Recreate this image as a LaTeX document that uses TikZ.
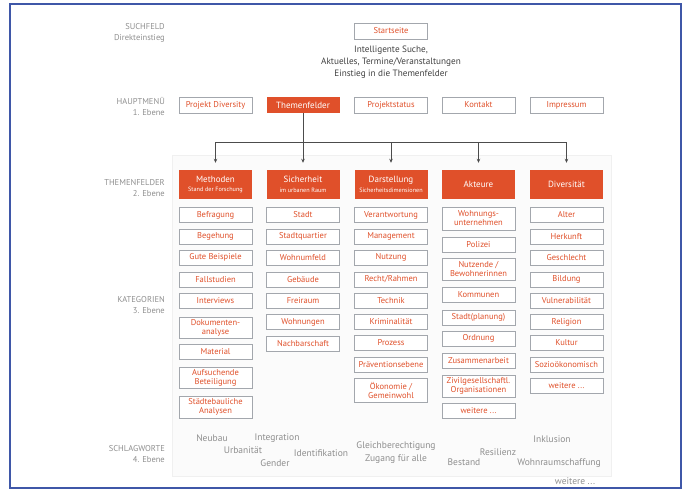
\documentclass[tikz,border=0pt]{standalone}
\usepackage{fontspec}
\setmainfont{PT Sans}
\usetikzlibrary{arrows.meta}

\definecolor{rot}{HTML}{E0502A}
\definecolor{rahmen}{HTML}{A3A7AD}
\definecolor{grau}{HTML}{8E8E8E}
\definecolor{blau}{HTML}{3F57A8}

\tikzset{
  kat/.style={draw=rahmen, line width=0.8pt, fill=white, text=rot,
    minimum width=73pt, minimum height=15pt, inner sep=1pt, align=center,
    font=\fontsize{8.5}{9}\selectfont},
  kopf/.style={fill=rot, text=white, minimum width=73pt, minimum height=29pt,
    inner sep=1pt, align=center, font=\fontsize{9}{9.5}\selectfont},
  ebene/.style={anchor=east, text=grau, align=right, inner sep=0pt,
    font=\fontsize{8.5}{11}\selectfont},
  wort/.style={text=grau, inner sep=0pt, font=\fontsize{9.5}{10}\selectfont},
  pfeil/.style={-{Stealth[length=4pt,width=3.5pt]}, draw=black!70,
    line width=0.8pt, shorten >=7pt}
}
\newcommand{\unter}[1]{{\fontsize{6.2}{7}\selectfont #1}}

\begin{document}
\begin{tikzpicture}[x=1pt,y=-1pt]
        \useasboundingbox (0,0) rectangle (689,491);

        % Frame and panel
        \draw[blau, line width=2.5pt] (10,4) rectangle (681,488);
        \draw[black!6, fill=black!1.5, line width=0.4pt] (172,155) rectangle (611,476);

        % Levels
        \node[ebene] (lSuch) at (165,33) {SUCHFELD\\Direkteinstieg};
        \node[ebene] (lHaupt) at (165,106) {HAUPTMENÜ\\1. Ebene};
        \node[ebene] (lThemen) at (165,188) {THEMENFELDER\\2. Ebene};
        \node[ebene] (lKat) at (165,305) {KATEGORIEN\\3. Ebene};
        \node[ebene] (lSchlag) at (165,454) {SCHLAGWORTE\\4. Ebene};

        % Search field
        \node[kat, minimum height=16pt] (start) at (391,31) {Startseite};
        \node[text=black!75, align=center, inner sep=0pt,
          font=\fontsize{9.2}{12}\selectfont] (intro) at (391,62)
          {Intelligente Suche,\\Aktuelles, Termine/Veranstaltungen\\Einstieg in die Themenfelder};

        % Main menu
        \node[kat, minimum height=16pt] (projekt) at (215.5,105) {Projekt Diversity};
        \node[kopf, minimum height=16pt] (themen) at (303,105) {Themenfelder};
        \node[kat, minimum height=16pt] (status) at (391,105) {Projektstatus};
        \node[kat, minimum height=16pt] (kontakt) at (478.5,105) {Kontakt};
        \node[kat, minimum height=16pt] (impressum) at (566.5,105) {Impressum};

        % Topics
        \node[kopf] (methoden) at (215.5,184.5) {Methoden\\\unter{Stand der Forschung}};
        \node[kopf] (sicherheit) at (303,184.5) {Sicherheit\\\unter{im urbanen Raum}};
        \node[kopf] (darstellung) at (391,184.5) {Darstellung\\\unter{Sicherheitsdimensionen}};
        \node[kopf] (akteure) at (478.5,184.5) {Akteure};
        \node[kopf] (diversitaet) at (566.5,184.5) {Diversität};

        % Connectors
        \coordinate (mitte) at (303,142);
        \coordinate (links) at (215.5,142);
        \coordinate (rechts) at (566.5,142);
        \draw[black!70, line width=0.8pt] (themen.south) -- (mitte);
        \draw[black!70, line width=0.8pt] (links) -- (rechts);
        \draw[pfeil] (links) -- (methoden.north);
        \draw[pfeil] (mitte) -- (sicherheit.north);
        \draw[pfeil] (mitte -| darstellung.north) -- (darstellung.north);
        \draw[pfeil] (mitte -| akteure.north) -- (akteure.north);
        \draw[pfeil] (rechts) -- (diversitaet.north);

        % Categories: Methoden
        \node[kat] (m1) at (215.5,215) {Befragung};
        \node[kat] (m2) at (215.5,236.5) {Begehung};
        \node[kat] (m3) at (215.5,257.5) {Gute Beispiele};
        \node[kat] (m4) at (215.5,279.5) {Fallstudien};
        \node[kat] (m5) at (215.5,300.5) {Interviews};
        \node[kat, minimum height=21pt] (m6) at (215.5,327.5) {Dokumenten-\\analyse};
        \node[kat] (m7) at (215.5,352) {Material};
        \node[kat, minimum height=21pt] (m8) at (215.5,377.5) {Aufsuchende\\Beteiligung};
        \node[kat, minimum height=22pt] (m9) at (215.5,407) {Städtebauliche\\Analysen};

        % Categories: Sicherheit
        \node[kat] (s1) at (303,215) {Stadt};
        \node[kat] (s2) at (303,236.5) {Stadtquartier};
        \node[kat] (s3) at (303,257.5) {Wohnumfeld};
        \node[kat] (s4) at (303,279.5) {Gebäude};
        \node[kat] (s5) at (303,300.5) {Freiraum};
        \node[kat] (s6) at (303,322) {Wohnungen};
        \node[kat] (s7) at (303,343.5) {Nachbarschaft};

        % Categories: Darstellung
        \node[kat] (d1) at (391,215) {Verantwortung};
        \node[kat] (d2) at (391,236.5) {Management};
        \node[kat] (d3) at (391,257.5) {Nutzung};
        \node[kat] (d4) at (391,279.5) {Recht/Rahmen};
        \node[kat] (d5) at (391,300.5) {Technik};
        \node[kat] (d6) at (391,322) {Kriminalität};
        \node[kat] (d7) at (391,343) {Prozess};
        \node[kat] (d8) at (391,364.5) {Präventionsebene};
        \node[kat, minimum height=24pt] (d9) at (391,390) {Ökonomie /\\Gemeinwohl};

        % Categories: Akteure
        \node[kat, minimum height=23pt] (a1) at (478.5,218.5) {Wohnungs-\\unternehmen};
        \node[kat] (a2) at (478.5,244.5) {Polizei};
        \node[kat, minimum height=22pt] (a3) at (478.5,269) {Nutzende /\\Bewohnerinnen};
        \node[kat] (a4) at (478.5,294.5) {Kommunen};
        \node[kat] (a5) at (478.5,317.5) {Stadt(planung)};
        \node[kat] (a6) at (478.5,338.5) {Ordnung};
        \node[kat] (a7) at (478.5,360.5) {Zusammenarbeit};
        \node[kat, minimum height=22pt] (a8) at (478.5,386) {Zivilgesellschaftl.\\Organisationen};
        \node[kat] (a9) at (478.5,410.5) {weitere ...};

        % Categories: Diversitaet
        \node[kat] (v1) at (566.5,215) {Alter};
        \node[kat] (v2) at (566.5,236.5) {Herkunft};
        \node[kat] (v3) at (566.5,257.5) {Geschlecht};
        \node[kat] (v4) at (566.5,279.5) {Bildung};
        \node[kat] (v5) at (566.5,300.5) {Vulnerabilität};
        \node[kat] (v6) at (566.5,322) {Religion};
        \node[kat] (v7) at (566.5,343) {Kultur};
        \node[kat] (v8) at (566.5,364.5) {Sozioökonomisch};
        \node[kat] (v9) at (566.5,385.5) {weitere ...};

        % Keywords
        \node[wort] (w1) at (212,438) {Neubau};
        \node[wort] (w2) at (277,438) {Integration};
        \node[wort] (w3) at (243,450) {Urbanität};
        \node[wort] (w4) at (275,463) {Gender};
        \node[wort] (w5) at (321,453) {Identifikation};
        \node[wort] (w6) at (396,446) {Gleichberechtigung};
        \node[wort] (w7) at (396,459) {Zugang für alle};
        \node[wort] (w8) at (498,452) {Resilienz};
        \node[wort] (w9) at (464,462) {Bestand};
        \node[wort] (w10) at (552,439) {Inklusion};
        \node[wort] (w11) at (559,463) {Wohnraumschaffung};
        \node[wort] (w12) at (575,481) {weitere ...};
    \end{tikzpicture}
\end{document}
